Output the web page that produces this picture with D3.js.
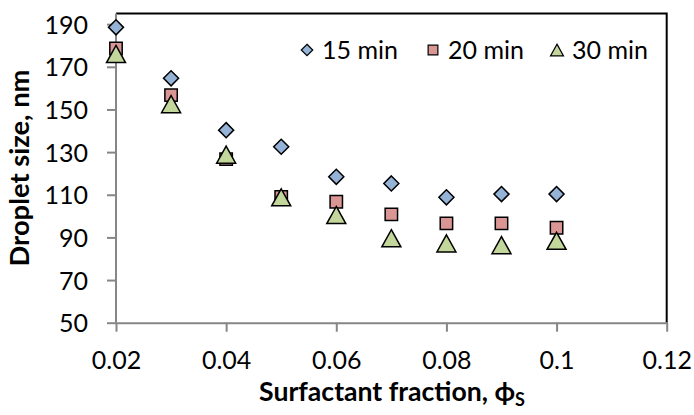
<!DOCTYPE html>
<html>
<head>
<meta charset="utf-8">
<script src="https://cdn.jsdelivr.net/npm/d3@7"></script>
<style>
  body { margin: 0; background: #fff; }
  svg { display: block; }
  text { font-family: Lato, "Open Sans", sans-serif; }
</style>
</head>
<body>
<svg id="chart" width="694" height="415"></svg>
<script>
// data
const fractions = [0.02, 0.03, 0.04, 0.05, 0.06, 0.07, 0.08, 0.09, 0.1];
const size15 = [188.5, 164.6, 140.3, 132.5, 118.4, 115.3, 108.8, 110.3, 110.3];
const size20 = [178.6, 156.7, 126.7, 109.0, 106.7, 100.8, 96.6, 96.6, 94.5];
const size30 = [176.0, 152.5, 128.8, 108.8, 100.5, 89.6, 87.2, 86.4, 88.4];
const seriesNames = ["15 min", "20 min", "30 min"];
const xTicks = [0.02, 0.04, 0.06, 0.08, 0.1, 0.12];
const yTicks = [50, 70, 90, 110, 130, 150, 170, 190];

const svg = d3.select("#chart");
const plotLeft = 116, plotRight = 666.7, plotTop = 13.5, plotBottom = 322.7;

let x = d3.scaleLinear().domain([0.02, 0.12]).range([plotLeft, plotRight]);
let y = d3.scaleLinear().domain([50, 195]).range([plotBottom, plotTop]);

let axisColor = "#868686";

// frame: top and right black
svg.append("path")
    .attr("d", `M${plotLeft},${plotTop}H${plotRight}V${plotBottom}`)
    .attr("fill", "none")
    .attr("stroke", "#000")
    .attr("stroke-width", 2);

let xAxis = svg.append("g")
    .attr("transform", `translate(0,${plotBottom})`)
    .call(d3.axisBottom(x).tickValues(xTicks).tickFormat(d => d3.format("")(+d.toFixed(2))).tickSize(9).tickSizeOuter(0).tickPadding(20));

let yAxis = svg.append("g")
    .attr("transform", `translate(${plotLeft},0)`)
    .call(d3.axisLeft(y).tickValues(yTicks).tickSize(9).tickSizeOuter(0).tickPadding(19));

for (let ax of [xAxis, yAxis]) {
    ax.select(".domain").attr("stroke", axisColor).attr("stroke-width", 2);
    ax.selectAll(".tick line").attr("stroke", axisColor).attr("stroke-width", 2);
    ax.selectAll(".tick text")
        .attr("fill", "#000")
        .attr("font-size", 25)
        .attr("font-family", "Lato, sans-serif");
}
yAxis.select(".domain").attr("d", `M0,${plotTop}V${plotBottom}`);
yAxis.selectAll(".tick text").attr("dy", "0.36em");

// fit a title's font size to the width it has in the picture
function fitWidth(sel, target) {
    let fs = +sel.attr("font-size");
    let w = sel.node().getComputedTextLength();
    sel.attr("font-size", fs * target / w);
}

// axis titles
let yt = svg.append("text")
    .attr("transform", `translate(29,168) rotate(-90)`)
    .attr("text-anchor", "middle")
    .attr("font-size", 22)
    .attr("font-weight", "bold")
    .text("Droplet size, nm");
fitWidth(yt, 197);

let xt = svg.append("text")
    .attr("x", 392)
    .attr("y", 401)
    .attr("text-anchor", "middle")
    .attr("font-size", 22)
    .attr("font-weight", "bold");
xt.append("tspan").text("Surfactant fraction, \u03D5");
xt.append("tspan").attr("dy", 5).attr("font-size", "0.68em").text("S");
fitWidth(xt, 266);

// markers
let colors = ["#95B3D7", "#D99694", "#C3D69B"];
let seriesVals = [size15, size20, size30];
let markerSize = [17, 14, 19];

function symbolPath(i, w) {
    if (i == 0) return d3.symbol(d3.symbolDiamond2, (w * w) / 2)();
    if (i == 1) return d3.symbol(d3.symbolSquare2, w * w)();
    return triangle(w);
}
function triangle(w) {
    let h = w * 0.9;
    return `M0,${-h/2}L${w/2},${h/2}L${-w/2},${h/2}Z`;
}

seriesVals.forEach((vals, i) => {
    svg.append("g")
        .selectAll("path")
        .data(fractions.map((f, j) => [f, vals[j]]))
        .join("path")
        .attr("transform", d => `translate(${x(d[0])},${y(d[1])})`)
        .attr("d", symbolPath(i, markerSize[i]))
        .attr("fill", colors[i])
        .attr("stroke", "#000")
        .attr("stroke-width", 1.5);
});

// legend
let legendX = [307, 433, 557];
let legend = svg.append("g");
seriesNames.forEach((name, i) => {
    legend.append("path")
        .attr("transform", `translate(${legendX[i]},50)`)
        .attr("d", symbolPath(i, [13, 11, 13][i]))
        .attr("fill", colors[i])
        .attr("stroke", "#000")
        .attr("stroke-width", 1.2);
    legend.append("text")
        .attr("x", legendX[i] + 15)
        .attr("y", 50)
        .attr("dy", "0.36em")
        .attr("font-size", 25)
        .text(name);
});
</script>
</body>
</html>
